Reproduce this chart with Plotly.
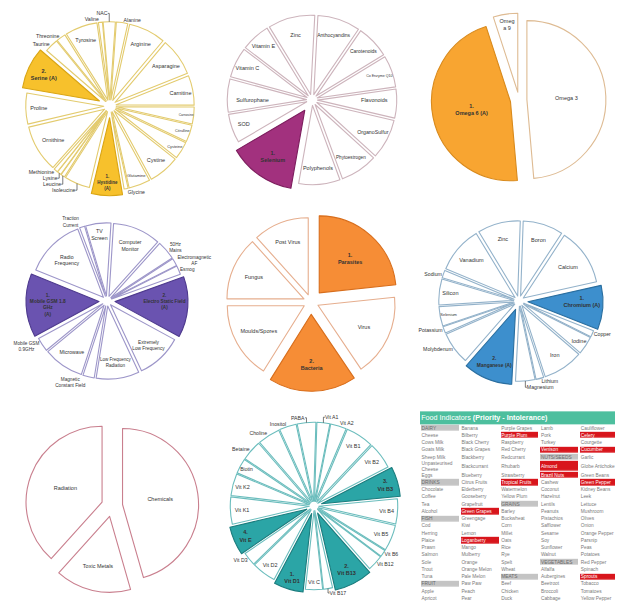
import plotly.graph_objects as go

W, H = 623, 603
OFF = 8  # page body margin in the browser
FONT = "Liberation Sans"

# ---------------- Pie 1 : amino acids ----------------
amino_labels = ["Alanine", "Arginine", "Asparagine", "Carnitine", "Carnosine", "Citrulline",
                "Cysteine", "Cystine", "Glutamine", "Glycine", "Hystidine<br>(A)", "Isoleucine",
                "Leucine", "Lysine", "Methionine", "Ornithine", "Proline", "Serine (A)",
                "Taurine", "Threonine", "Tyrosine", "Valine", "NAC"]
amino_values = [8.5, 27.5, 28, 22, 12.5, 12.5, 13, 23, 16, 3, 23, 19, 3, 3, 3, 35, 23, 31,
                10, 7, 24, 3, 9]
amino_rank = {"Hystidine<br>(A)": "1.", "Serine (A)": "2."}
amino_outside = ["Alanine", "Glycine", "Leucine", "Lysine", "Methionine", "Taurine",
                 "Threonine", "Valine", "NAC", "Isoleucine"]

# ---------------- Pie 2 : antioxidants ----------------
anti_labels = ["Anthocyandins", "Carotenoids", "Co Enzyme Q10", "Flavonoids", "OrganoSulfur",
               "Phytoestrogen", "Polyphenols", "Selenium", "SOD", "Sulfurophane", "Vitamin C",
               "Vitamin E", "Zinc"]
anti_values = [31, 24, 23, 21, 29, 27, 30, 49, 21, 24, 22, 21, 34]
anti_rank = {"Selenium": "1."}
anti_outside = []

# ---------------- Pie 3 : omegas ----------------
omega_labels = ["Omega 3", "Omega 6 (A)", "Omeg<br>a 9"]
omega_values = [175, 167, 18]
omega_rank = {"Omega 6 (A)": "1."}
omega_outside = []

# ---------------- Pie 4 : EMF ----------------
emf_labels = ["Computer<br>Monitor", "50Hz<br>Mains", "Electromagnetic<br>AF", "Esmog",
              "Electro Static Field<br>(A)", "Extremely<br>Low Frequency",
              "Low Frequency<br>Radiation", "Magnetic<br>Constant Field", "Microwave",
              "Mobile GSM<br>0.9GHz", "Mobile GSM 1.8<br>GHz<br>(A)", "Radio<br>Frequency",
              "Traction<br>Current", "TV<br>Screen"]
emf_values = [38, 15, 6, 7, 48, 36, 34, 9, 32, 11, 50, 47, 4, 20]
emf_rank = {"Mobile GSM 1.8<br>GHz<br>(A)": "1.", "Electro Static Field<br>(A)": "2."}
emf_outside = ["50Hz<br>Mains", "Electromagnetic<br>AF", "Esmog", "Magnetic<br>Constant Field",
               "Mobile GSM<br>0.9GHz", "Traction<br>Current"]

# ---------------- Pie 5 : microbes ----------------
bug_labels = ["Parasites", "Virus", "Bacteria", "Moulds/Spores", "Fungus", "Post Virus"]
bug_values = [84, 62, 66, 58, 48, 42]
bug_rank = {"Parasites": "1.", "Bacteria": "2."}
bug_outside = []

# ---------------- Pie 6 : minerals ----------------
min_labels = ["Boron", "Calcium", "Chromium (A)", "Copper", "Iodine", "Iron", "Lithium",
              "Magnesium", "Manganese (A)", "Molybdenum", "Potassium", "Selenium", "Silicon",
              "Sodium", "Vanadium", "Zinc"]
min_values = [31, 44, 34, 5, 14, 31, 6, 15, 38, 25, 5, 15, 20, 6, 36, 33]
min_rank = {"Chromium (A)": "1.", "Manganese (A)": "2."}
min_outside = ["Copper", "Lithium", "Magnesium", "Molybdenum", "Potassium", "Sodium"]

# ---------------- Pie 7 : toxins ----------------
tox_labels = ["Chemicals", "Toxic Metals", "Radiation"]
tox_values = [164, 58, 138]
tox_rank = {}
tox_outside = []

# ---------------- Pie 8 : vitamins ----------------
vit_labels = ["Vit A1", "Vit A2", "Vit B1", "Vit B2", "Vit B3", "Vit B4", "Vit B5", "Vit B6",
              "Vit B12", "Vit B13", "Vit B17", "Vit C", "Vit D1", "Vit D2", "Vit D3", "Vit E",
              "Vit K1", "Vit K2", "Biotin", "Betaine", "Choline", "Inositol", "PABA"]
vit_values = [9.5, 11.7, 20.4, 19.4, 21.8, 18.5, 19, 5, 11.7, 28.3, 6.7, 12.6, 21.7, 17.8,
              9.9, 21.1, 20, 16.2, 11, 15, 16.5, 12.5, 13.7]
vit_rank = {"Vit D1": "1.", "Vit B13": "2.", "Vit B3": "3.", "Vit E": "4."}
vit_outside = ["PABA", "Vit A1", "Vit A2", "Inositol", "Choline", "Betaine", "Vit D3",
               "Vit B12", "Vit B6", "Vit B17"]

# ---------------- Food table ----------------
table_title = "Food Indicators <b>(Priority - Intolerance)</b>"
food_col1 = ["DAIRY", "Cheese", "Cows Milk", "Goats Milk", "Sheep Milk", "Unpasteurised<br>Cheese",
             "Eggs", "DRINKS", "Chocolate", "Coffee", "Tea", "Alcohol", "FISH", "Cod", "Herring",
             "Plaice", "Prawn", "Salmon", "Sole", "Trout", "Tuna", "FRUIT", "Apple", "Apricot"]
food_col2 = ["Banana", "Bilberry", "Black Cherry", "Black Grapes", "Blackberry", "Blackcurrant",
             "Blueberry", "Citrus Fruits", "Elderberry", "Gooseberry", "Grapefruit", "Green Grapes",
             "Greengage", "Kiwi", "Lemon", "Loganberry", "Mango", "Mulberry", "Orange",
             "Orange Melon", "Pale Melon", "Paw Paw", "Peach", "Pear"]
food_col3 = ["Purple Grapes", "Purple Plum", "Raspberry", "Red Cherry", "Redcurrant", "Rhubarb",
             "Strawberry", "Tropical Fruits", "Watermelon", "Yellow Plum", "GRAINS", "Barley",
             "Buckwheat", "Corn", "Millet", "Oats", "Rice", "Rye", "Spelt", "Wheat", "MEATS",
             "Beef", "Chicken", "Duck"]
food_col4 = ["Lamb", "Pork", "Turkey", "Venison", "NUTS/SEEDS", "Almond", "Brazil Nuts", "Cashew",
             "Coconut", "Hazelnut", "Lentils", "Peanuts", "Pistachios", "Safflower", "Sesame",
             "Soy", "Sunflower", "Walnut", "VEGETABLES", "Alfalfa", "Aubergines", "Beetroot",
             "Broccoli", "Cabbage"]
food_col5 = ["Cauliflower", "Celery", "Courgette", "Cucumber", "Garlic", "Globe Artichoke",
             "Green Beans", "Green Pepper", "Kidney Beans", "Leek", "Lettuce", "Mushroom", "Olives",
             "Onion", "Orange Pepper", "Parsnip", "Peas", "Potatoes", "Red Pepper", "Spinach",
             "Sprouts", "Tobacco", "Tomatoes", "Yellow Pepper"]
food_groups = ["DAIRY", "DRINKS", "FISH", "FRUIT", "GRAINS", "MEATS", "NUTS/SEEDS", "VEGETABLES"]
food_priority = ["Purple Plum", "Celery", "Venison", "Cucumber", "Almond", "Brazil Nuts",
                 "Tropical Fruits", "Green Pepper", "Green Grapes", "Loganberry", "Sprouts"]

# ======================================================================
fig = go.Figure()


def px_x(x):
    return (x - OFF) / W


def px_y(y):
    return 1 - (y - OFF) / H


def add_pie(labels, values, ranks, outside, fill, border, hl_border, cx, cy, r,
            pull_n, pull_h, rotation, fsize=5.5, osize=5.2):
    text, colors, lines, pulls, pos = [], [], [], [], []
    for lab in labels:
        if lab in ranks:
            text.append("<b>%s<br>%s</b>" % (ranks[lab], lab))
            colors.append(fill)
            lines.append(hl_border)
            pulls.append(pull_h)
        else:
            text.append(lab)
            colors.append("white")
            lines.append(border)
            pulls.append(pull_n)
        pos.append("outside" if lab in outside else "inside")
    half = r * (1 + max(pulls))
    dom = dict(x=[max(0, px_x(cx - half)), min(1, px_x(cx + half))],
               y=[max(0, px_y(cy + half)), min(1, px_y(cy - half))])
    fig.add_trace(go.Pie(
        labels=labels, values=values, text=text, textinfo="text", textposition=pos,
        sort=False, direction="clockwise", rotation=rotation, pull=pulls,
        marker=dict(colors=colors, line=dict(color=lines, width=1.1)),
        insidetextorientation="horizontal", automargin=False,
        insidetextfont=dict(size=fsize, color="#333333", family=FONT),
        outsidetextfont=dict(size=osize, color="#333333", family=FONT),
        hoverinfo="label", showlegend=False, domain=dom))


add_pie(amino_labels, amino_values, amino_rank, amino_outside,
        "#F7C12C", "#E3CB6E", "#D9A514", 110, 106, 78, 0.08, 0.15, 4)
add_pie(anti_labels, anti_values, anti_rank, anti_outside,
        "#A2317E", "#CDB4BC", "#7D1E5E", 312, 99, 80, 0.07, 0.16, 3)
add_pie(omega_labels, omega_values, omega_rank, omega_outside,
        "#F8A531", "#DEBB93", "#D98A1C", 519, 100, 79, 0.10, 0.11, 0)
add_pie(emf_labels, emf_values, emf_rank, emf_outside,
        "#6A53B0", "#9D96C9", "#4E3A8E", 107, 301, 73, 0.07, 0.11, 3.6, 5.2, 4.7)
add_pie(bug_labels, bug_values, bug_rank, bug_outside,
        "#F68D36", "#E6AE8E", "#D86E1C", 311, 302, 77, 0.10, 0.16, 0)
add_pie(min_labels, min_values, min_rank, min_outside,
        "#3D8FCD", "#93B2CA", "#2A6E9F", 519, 301, 75, 0.07, 0.12, 2)
add_pie(tox_labels, tox_values, tox_rank, tox_outside,
        "#C97F8E", "#C97F8E", "#C97F8E", 112, 506, 76, 0.14, 0.14, 0)
add_pie(vit_labels, vit_values, vit_rank, vit_outside,
        "#2BA5A6", "#6BBDBD", "#1B7C7D", 314, 506, 79, 0.06, 0.10, 1.7)

# ---------------- table as heatmap + text on its own axes ----------------
cols = [food_col1, food_col2, food_col3, food_col4, food_col5]
nrows = len(food_col1)
row_h = [1.5 if any("<br>" in c[i] for c in cols) else 1.0 for i in range(nrows)]
edges = [0.0]
for h in row_h:
    edges.append(edges[-1] + h)
centers = [(edges[i] + edges[i + 1]) / 2 for i in range(nrows)]

z = []
for i in range(nrows):
    row = []
    for c in cols:
        v = c[i]
        row.append(1.0 if v in food_groups else (2.0 if v in food_priority else 0.0))
    z.append(row)

fig.add_trace(go.Heatmap(
    z=z, x=list(range(5)), y=edges, xgap=2, ygap=1.2, zmin=0, zmax=2,
    colorscale=[[0, "white"], [0.5, "#C4C4C4"], [1, "#D8151C"]],
    showscale=False, hoverinfo="skip", xaxis="x", yaxis="y"))

fig.add_trace(go.Heatmap(
    z=[[1, 1, 1, 1, 1]], x=list(range(5)), y=[-1.85, -0.1], zmin=0, zmax=1,
    colorscale=[[0, "#4DBF9E"], [1, "#4DBF9E"]], showscale=False, hoverinfo="skip",
    xaxis="x", yaxis="y"))

for kind, color in (("normal", "#7A7A7A"), ("group", "#6A6A6A"), ("priority", "white")):
    xs, ys, ts = [], [], []
    for j, c in enumerate(cols):
        for i, v in enumerate(c):
            k = "group" if v in food_groups else ("priority" if v in food_priority else "normal")
            if k == kind:
                xs.append(j - 0.46)
                ys.append(centers[i])
                ts.append(v)
    fig.add_trace(go.Scatter(
        x=xs, y=ys, text=ts, mode="text", textposition="middle right",
        textfont=dict(size=4.8, color=color, family=FONT), hoverinfo="skip",
        showlegend=False, xaxis="x", yaxis="y", cliponaxis=False))

fig.add_trace(go.Scatter(
    x=[-0.47], y=[-0.95], text=[table_title], mode="text", textposition="middle right",
    textfont=dict(size=7.2, color="white", family=FONT), hoverinfo="skip",
    showlegend=False, xaxis="x", yaxis="y", cliponaxis=False))

fig.update_layout(
    width=W, height=H, margin=dict(l=0, r=0, t=0, b=0, autoexpand=False),
    paper_bgcolor="white", plot_bgcolor="white",
    font=dict(family=FONT, color="#333333"),
    xaxis=dict(domain=[px_x(420), px_x(619)], range=[-0.5, 4.5], visible=False,
               fixedrange=True),
    yaxis=dict(domain=[px_y(603), px_y(411)], range=[edges[-1] + 0.1, -1.9], visible=False,
               fixedrange=True),
    showlegend=False,
)

fig.write_html("out.html")
